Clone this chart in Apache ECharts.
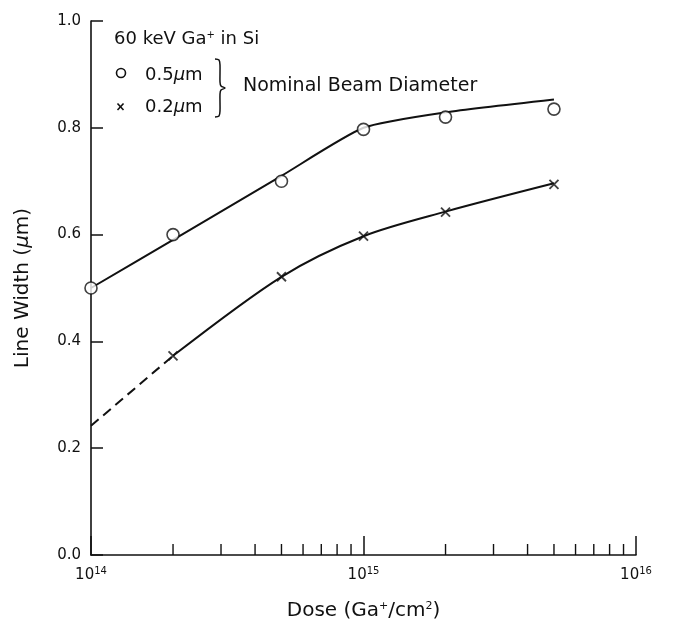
<!DOCTYPE html>
<html>
<head>
<meta charset="utf-8">
<script src="https://cdn.jsdelivr.net/npm/echarts@6/dist/echarts.min.js"></script>
<style>html,body{margin:0;padding:0;background:#fff}#c{width:676px;height:626px}</style>
</head>
<body>
<div id="c"></div>
<script>
// Data
var doses = [1e14, 2e14, 5e14, 1e15, 2e15, 5e15];
var circleValues = [0.50, 0.60, 0.70, 0.797, 0.82, 0.835];   // 0.5 um beam
var crossDoses = [2e14, 5e14, 1e15, 2e15, 5e15];
var crossValues = [0.373, 0.521, 0.597, 0.642, 0.694];        // 0.2 um beam
var upperCurve = [0.50, 0.59, 0.71, 0.80, 0.829, 0.853];
var lowerCurveDoses = [2e14, 5e14, 1e15, 2e15, 5e15];
var lowerCurve = [0.373, 0.521, 0.597, 0.643, 0.696];
var dashedDoses = [1e14, 2e14];
var dashedCurve = [0.242, 0.373];
var minorTickValues = [2e14,3e14,4e14,5e14,6e14,7e14,8e14,9e14,2e15,3e15,4e15,5e15,6e15,7e15,8e15,9e15];

var FONT = 'DejaVu Sans';
var INK = '#111';
function pairs(xs, ys){ return xs.map(function(x,i){return [x, ys[i]];}); }

var chart = echarts.init(document.getElementById('c'), null, {renderer:'canvas'});
var crossPath = 'path://M0,0L10,10M10,0L0,10';

chart.setOption({
  backgroundColor: '#fff',
  animation: false,
  grid: {left: 91, right: 40, top: 21, bottom: 70, containLabel: false},
  xAxis: {
    type: 'log', logBase: 10, min: 1e14, max: 1e16,
    name: 'Dose (Ga{sup|+}/cm{sup|2})',
    nameLocation: 'middle', nameGap: 46,
    nameTextStyle: {fontFamily: FONT, fontSize: 20, color: INK,
      rich: {sup: {fontSize: 11, verticalAlign: 'top', padding: [0,0,9,0], fontFamily: FONT, color: INK}}},
    axisLine: {show: true, onZero: false, lineStyle: {color: INK, width: 1.6}},
    axisTick: {show: true, inside: true, length: 19, lineStyle: {color: INK, width: 1.5}},
    splitLine: {show: false},
    axisLabel: {
      margin: 11, color: INK, fontFamily: FONT,
      formatter: function(v){ var e = Math.round(Math.log10(v)); return '{b|10}{s|' + e + '}'; },
      rich: {b: {fontSize: 15, fontFamily: FONT, color: INK},
             s: {fontSize: 10, fontFamily: FONT, color: INK, verticalAlign: 'top', padding: [0,0,9,0]}}
    }
  },
  yAxis: {
    type: 'value', min: 0, max: 1, interval: 0.2,
    name: 'Line Width ({mu|μ}m)', nameLocation: 'middle', nameGap: 58, nameRotate: 90,
    nameTextStyle: {fontFamily: FONT, fontSize: 20, color: INK,
      rich: {mu: {fontStyle: 'italic', fontSize: 20, fontFamily: FONT, color: INK}}},
    axisLine: {show: true, lineStyle: {color: INK, width: 1.6}},
    axisTick: {show: true, inside: true, length: 12, lineStyle: {color: INK, width: 1.5}},
    splitLine: {show: false},
    axisLabel: {margin: 10, fontSize: 15, fontFamily: FONT, color: INK,
      formatter: function(v){ return v.toFixed(1); }}
  },
  graphic: [
    {type: 'text', x: 114, y: 39, style: {
      text: '60 keV Ga{sup|+} in Si', font: '18px "' + FONT + '"', fill: INK, verticalAlign: 'middle',
      rich: {sup: {fontSize: 10, fontFamily: FONT, fill: INK, verticalAlign: 'top', padding: [0,0,8,0]}}}},
    {type: 'circle', shape: {cx: 121, cy: 73, r: 4.5}, style: {fill: '#fff', stroke: INK, lineWidth: 1.6}},
    {type: 'text', x: 145, y: 75, style: {
      text: '0.5{mu|μ}m', font: '18px "' + FONT + '"', fill: INK, verticalAlign: 'middle',
      rich: {mu: {fontStyle: 'italic', fontFamily: FONT, fontSize: 18, fill: INK}}}},
    {type: 'polyline', shape: {points: [[117.5,103.5],[123.5,110]]}, style: {stroke: INK, lineWidth: 1.6, fill: null}},
    {type: 'polyline', shape: {points: [[123.5,103.5],[117.5,110]]}, style: {stroke: INK, lineWidth: 1.6, fill: null}},
    {type: 'text', x: 145, y: 107, style: {
      text: '0.2{mu|μ}m', font: '18px "' + FONT + '"', fill: INK, verticalAlign: 'middle',
      rich: {mu: {fontStyle: 'italic', fontFamily: FONT, fontSize: 18, fill: INK}}}},
    {type: 'polyline', shape: {smooth: 0.3, points: [[215,59],[219,60],[220,65],[220,82],[221,86],[225,88],[221,90],[220,94],[220,111],[219,116],[215,117]]},
      style: {fill: null, stroke: INK, lineWidth: 1.5}},
    {type: 'text', x: 243, y: 86, style: {
      text: 'Nominal Beam Diameter', font: '19px "' + FONT + '"', fill: INK, verticalAlign: 'middle'}}
  ],
  series: [
    {type: 'line', data: pairs(doses, upperCurve), smooth: 0.2, showSymbol: false,
      lineStyle: {color: INK, width: 2}, z: 2},
    {type: 'line', data: pairs(lowerCurveDoses, lowerCurve), smooth: 0.3, showSymbol: false,
      lineStyle: {color: INK, width: 2}, z: 2},
    {type: 'line', data: pairs(dashedDoses, dashedCurve), showSymbol: false,
      lineStyle: {color: INK, width: 2, type: [10, 6]}, z: 2},
    {type: 'scatter', data: pairs(doses, circleValues), symbol: 'circle', symbolSize: 12,
      itemStyle: {color: '#fff', borderColor: INK, borderWidth: 1.6}, z: 5},
    {type: 'scatter', data: pairs(crossDoses, crossValues), symbol: crossPath, symbolSize: 9,
      itemStyle: {color: 'none', borderColor: INK, borderWidth: 1.9}, z: 5},
    {type: 'custom', data: minorTickValues.map(function(v){return [v, 0];}), z: 3,
      renderItem: function(params, api){
        var p = api.coord([api.value(0), 0]);
        return {type: 'line', shape: {x1: p[0], y1: p[1], x2: p[0], y2: p[1] - 11},
          style: {stroke: INK, lineWidth: 1.4}};
      }}
  ]
});
</script>
</body>
</html>
